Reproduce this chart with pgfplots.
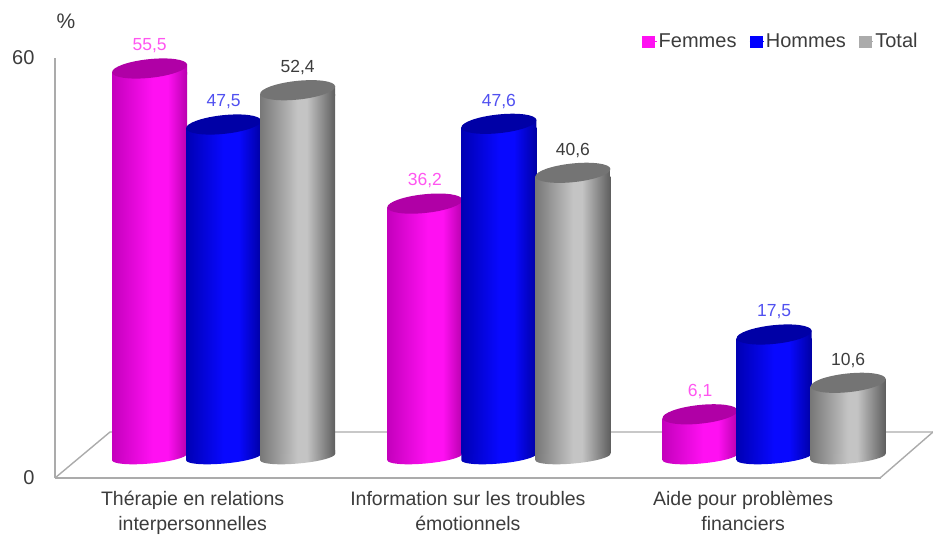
\documentclass[border=0pt]{standalone}
\usepackage{fontspec}
\setmainfont{Liberation Sans}
\usepackage{pgfplots}
\usepackage{pgfplotstable}
\pgfplotsset{compat=1.18}

\definecolor{txt}{HTML}{3C3C3C}
\definecolor{rule}{HTML}{ABABAB}
\definecolor{femtop}{HTML}{B000A6}
\definecolor{homtop}{HTML}{0000A6}
\definecolor{tottop}{HTML}{747474}
\definecolor{femlab}{HTML}{FF55F0}
\definecolor{homlab}{HTML}{5050F0}
\definecolor{femdark}{HTML}{C400BC}
\definecolor{femlight}{HTML}{FF10F2}
\definecolor{femdark2}{HTML}{B800AE}
\definecolor{homdark}{HTML}{0000B4}
\definecolor{homlight}{HTML}{0808FF}
\definecolor{homdark2}{HTML}{0000A4}
\definecolor{totdark}{HTML}{787878}
\definecolor{totlight}{HTML}{C4C4C4}
\definecolor{totdark2}{HTML}{5E5E5E}

% Side shading of the three kinds of cylinder
\pgfdeclarehorizontalshading{cylfem}{100bp}{color(0bp)=(femdark);color(25bp)=(femdark);
  color(52bp)=(femlight);color(62bp)=(femlight);color(75bp)=(femdark2);color(100bp)=(femdark2)}
\pgfdeclarehorizontalshading{cylhom}{100bp}{color(0bp)=(homdark);color(25bp)=(homdark);
  color(50bp)=(homlight);color(60bp)=(homlight);color(75bp)=(homdark2);color(100bp)=(homdark2)}
\pgfdeclarehorizontalshading{cyltot}{100bp}{color(0bp)=(totdark);color(25bp)=(totdark);
  color(50bp)=(totlight);color(56bp)=(totlight);color(75bp)=(totdark2);color(100bp)=(totdark2)}

% Rounded foot of a cylinder: tilted ellipse plus the start of the side wall
\newcommand{\cylfoot}[1]{%
  \pgfpathellipse{\pgfpointorigin}{\pgfpoint{37.5pt}{3.3pt}}{\pgfpoint{-0.6pt}{6.5pt}}%
  \pgfpathmoveto{\pgfpoint{-37.5pt}{-3.3pt}}%
  \pgfpathlineto{\pgfpoint{37.5pt}{3.3pt}}%
  \pgfpathlineto{\pgfpoint{37.5pt}{7pt}}%
  \pgfpathlineto{\pgfpoint{-37.5pt}{7pt}}%
  \pgfpathclose
  \pgfshadepath{#1}{0}\pgfusepath{discard}}
% Top of a cylinder: end of the side wall, cut along the tilt, and the dark face
\newcommand{\cyltop}[2]{%
  \pgfpathmoveto{\pgfpoint{-37.5pt}{-3.9pt}}%
  \pgfpathlineto{\pgfpoint{37.5pt}{3.9pt}}%
  \pgfpathlineto{\pgfpoint{37.5pt}{-6pt}}%
  \pgfpathlineto{\pgfpoint{-37.5pt}{-6pt}}%
  \pgfpathclose
  \pgfshadepath{#1}{0}\pgfusepath{discard}%
  \pgfsetfillcolor{#2}%
  \pgfpathellipse{\pgfpointorigin}{\pgfpoint{37.5pt}{3.9pt}}{\pgfpoint{-0.9pt}{9.3pt}}%
  \pgfusepath{fill}}
\pgfdeclareplotmark{footfem}{\cylfoot{cylfem}}
\pgfdeclareplotmark{foothom}{\cylfoot{cylhom}}
\pgfdeclareplotmark{foottot}{\cylfoot{cyltot}}
\pgfdeclareplotmark{topfem}{\cyltop{cylfem}{femtop}}
\pgfdeclareplotmark{tophom}{\cyltop{cylhom}{homtop}}
\pgfdeclareplotmark{toptot}{\cyltop{cyltot}{tottop}}

\pgfplotstableread{
x y
-0.269 55.5
0.731 36.2
1.731 6.1
}\femmes
\pgfplotstableread{
x y
0 47.5
1 47.6
2 17.5
}\hommes
\pgfplotstableread{
x y
0.269 52.4
1.269 40.6
2.269 10.6
}\total

\begin{document}
\begin{tikzpicture}[x=1pt,y=1pt]
\useasboundingbox (0,0) rectangle (933,535);
% Front plane: value scale and category names
\begin{axis}[
  anchor=south west, at={(55pt,57pt)},
  scale only axis, width=825.75pt, height=420pt,
  xmin=-0.5, xmax=2.5, ymin=0, ymax=60,
  axis lines*=left,
  axis line style={-,draw=rule,line width=1.6pt},
  major tick length=0pt,
  ytick={0,60},
  xtick={0,1,2},
  xticklabels={{Thérapie en relations\\interpersonnelles},{Information sur les troubles\\émotionnels},{Aide pour problèmes\\financiers}},
  xticklabel style={align=center,font=\fontsize{19.5}{25}\selectfont,text=txt,yshift=-10pt},
  yticklabel style={font=\fontsize{20}{24}\selectfont,text=txt,xshift=-17pt},
  /pgf/number format/assume math mode=true,
  clip=false,
]
\end{axis}
% Floor of the chart
\draw[rule,line width=1.4pt] (55,57) -- (110,103) -- (933,103);
\draw[rule,line width=1.4pt] (880,57) -- (933,103);
\node[text=txt,font=\fontsize{21}{24}\selectfont] at (66,514) {\%};
% Cylinders, set back on the floor; the walls start just above the foot
\begin{axis}[
  anchor=south west, at={(86pt,85.2pt)},
  scale only axis, width=825.75pt, height=420pt,
  xmin=-0.5, xmax=2.5, ymin=1.03, ymax=61.03,
  hide axis, clip=false, clip mode=individual, clip marker paths=true,
  legend style={at={(axis cs:2.54,61.1)},anchor=north east,draw=none,fill=none,
    font=\fontsize{20}{24}\selectfont,text=txt,legend columns=3,
    /tikz/every even column/.append style={column sep=11pt}},
  legend image code/.code={\path (0pt,0pt) -- (14pt,0pt);\fill[#1] (0pt,-5.5pt) rectangle (12pt,5.5pt);},
  nodes near coords style={font=\fontsize{17.5}{20}\selectfont,anchor=south,yshift=12pt},
  /pgf/number format/.cd,fixed,fixed zerofill,precision=1,use comma,assume math mode=true,
]
% Women
\addplot[forget plot,only marks,mark=footfem] table[x=x,y expr=0] {\femmes};
\addplot[forget plot,ybar,bar width=75pt,draw=none,shade,shading=cylfem,yshift=-4pt] coordinates {(-0.269,55.5)};
\addplot[forget plot,ybar,bar width=75pt,draw=none,shade,shading=cylfem,yshift=-4pt] coordinates {(0.731,36.2)};
\addplot[forget plot,ybar,bar width=75pt,draw=none,shade,shading=cylfem,yshift=-4pt] coordinates {(1.731,6.1)};
\addplot[forget plot,only marks,mark=topfem,nodes near coords,nodes near coords style={text=femlab}] table[x=x,y=y] {\femmes};
% Men
\addplot[forget plot,only marks,mark=foothom] table[x=x,y expr=0] {\hommes};
\addplot[forget plot,ybar,bar width=75pt,draw=none,shade,shading=cylhom,yshift=-4pt] coordinates {(0,47.5)};
\addplot[forget plot,ybar,bar width=75pt,draw=none,shade,shading=cylhom,yshift=-4pt] coordinates {(1,47.6)};
\addplot[forget plot,ybar,bar width=75pt,draw=none,shade,shading=cylhom,yshift=-4pt] coordinates {(2,17.5)};
\addplot[forget plot,only marks,mark=tophom,nodes near coords,nodes near coords style={text=homlab}] table[x=x,y=y] {\hommes};
% Both sexes
\addplot[forget plot,only marks,mark=foottot] table[x=x,y expr=0] {\total};
\addplot[forget plot,ybar,bar width=75pt,draw=none,shade,shading=cyltot,yshift=-4pt] coordinates {(0.269,52.4)};
\addplot[forget plot,ybar,bar width=75pt,draw=none,shade,shading=cyltot,yshift=-4pt] coordinates {(1.269,40.6)};
\addplot[forget plot,ybar,bar width=75pt,draw=none,shade,shading=cyltot,yshift=-4pt] coordinates {(2.269,10.6)};
\addplot[forget plot,only marks,mark=toptot,nodes near coords,nodes near coords style={text=txt}] table[x=x,y=y] {\total};
\addlegendimage{femlight}\addlegendentry{Femmes}
\addlegendimage{blue}\addlegendentry{Hommes}
\addlegendimage{rule}\addlegendentry{Total}
\end{axis}
\end{tikzpicture}
\end{document}
